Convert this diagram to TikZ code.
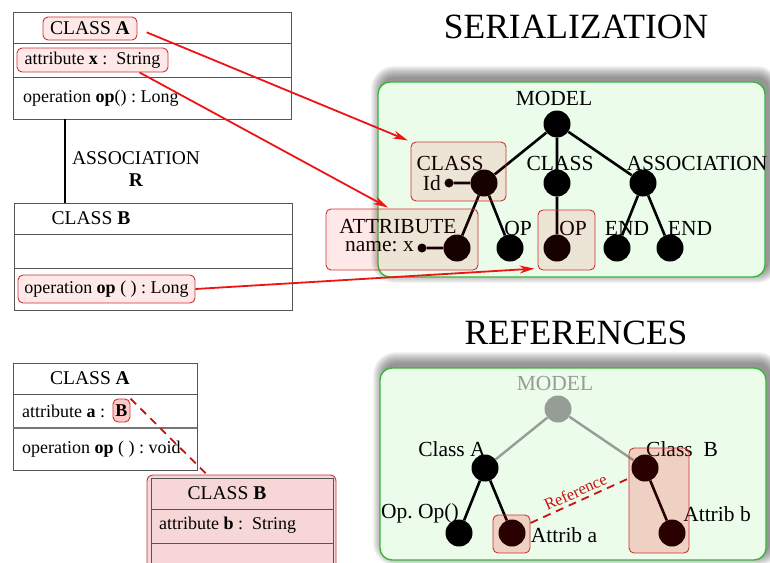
\documentclass[tikz,border=0pt]{standalone}
\usepackage{fontspec}
\setmainfont{Liberation Serif}
\usetikzlibrary{arrows.meta,calc}

\definecolor{panelfill}{RGB}{235,252,235}
\definecolor{paneledge}{RGB}{60,180,60}
\definecolor{hlred}{RGB}{205,50,50}
\definecolor{umlline}{RGB}{85,85,85}
\definecolor{ghost}{RGB}{150,156,150}
\definecolor{linkred}{RGB}{238,20,20}
\definecolor{pinkfill}{RGB}{246,214,214}

\newcommand\umlrow{\fontsize{18}{21}\selectfont}
\newcommand\umlhead{\fontsize{19.5}{23}\selectfont}
\newcommand\treelbl{\fontsize{21.5}{25}\selectfont}
\newcommand\bigtitle{\fontsize{35.5}{40}\selectfont}

% soft shadow behind a panel, cast up and to the right
\newcommand\panelshadow[4]{%
  \foreach \k in {0,...,11}{%
    \fill[black, fill opacity=0.045, rounded corners={(12+\k)*1pt}]
      (#1+4-\k, #2-5-\k) rectangle (#3+4+\k, #4-5+\k);}}

\tikzset{
  panel/.style={draw=paneledge, line width=1.4pt, fill=panelfill, rounded corners=12pt},
  umlbox/.style={draw=umlline, line width=0.9pt, inner sep=0pt},
  hl/.style={draw=hlred, line width=0.9pt, rounded corners=5pt, fill=red, fill opacity=0.09,
    text opacity=1, inner sep=0pt},
  hlstrong/.style={hl, fill opacity=0.17},
  dot/.style={circle, fill=black, inner sep=0pt, minimum size=27pt},
  smalldot/.style={circle, fill=black, inner sep=0pt, minimum size=9pt},
  treeedge/.style={line width=2.6pt},
  ghostedge/.style={line width=2.4pt, draw=ghost},
  lbl/.style={font=\treelbl, inner sep=0pt},
  row/.style={font=\umlrow, inner sep=0pt},
  head/.style={font=\umlhead, inner sep=0pt},
  link/.style={draw=linkred, line width=1.8pt, -{Stealth[length=15pt,width=8pt]}},
  reflink/.style={draw=linkred!85!black, line width=1.8pt, dash pattern=on 8pt off 6pt},
}

\begin{document}
\begin{tikzpicture}[x=1pt,y=-1pt]
\useasboundingbox (0,0) rectangle (770,562);

% ---------- titles ----------
\node[font=\bigtitle] (tser) at (576,27) {SERIALIZATION};
\node[font=\bigtitle] (tref) at (576,333) {REFERENCES};

% ---------- UML: class A, association R, class B ----------
\node[umlbox, minimum width=278pt, minimum height=107pt] (clA) at (152,65.5) {};
\draw[umlline, line width=0.9pt] (13,43) -- (291,43) (13,77) -- (291,77);
\node[hl, minimum width=94pt, minimum height=23pt, font=\umlhead] (hA) at (90,28.5) {CLASS \textbf{A}};
\node[hl, minimum width=151pt, minimum height=24pt, font=\umlrow] (hx) at (92.5,60) {attribute \textbf{x} :\ \ String};
\node[row, anchor=west] (opA) at (23,98) {operation \textbf{op}() :\ Long};

\node[umlbox, minimum width=278pt, minimum height=107pt] (clB) at (153,256.5) {};
\draw[umlline, line width=0.9pt] (14,234) -- (292,234) (14,268) -- (292,268);
\node[head] (nB) at (91,218) {CLASS \textbf{B}};
\node[hl, minimum width=177pt, minimum height=28pt, font=\umlrow] (hop) at (106.5,289) {operation \textbf{op} ( ) :\ Long};

\draw[line width=1.8pt] ([xshift=-87pt]clA.south) -- ([xshift=-88pt]clB.north);
\node[head] (assoc) at (136,158) {ASSOCIATION};
\node[head] (assocR) at (136,180) {\textbf{R}};

% ---------- serialization tree ----------
\panelshadow{378}{82}{765}{277}
\path[panel] (378,82) rectangle (765,277);

\node[dot] (m) at (557,124) {};
\node[dot] (c1) at (484,183) {};
\node[dot] (c2) at (557,183) {};
\node[dot] (as) at (643,183) {};
\node[smalldot] (id) at (449,183) {};
\node[dot] (at) at (457,248) {};
\node[dot] (op1) at (510,248) {};
\node[dot] (op2) at (557,248) {};
\node[dot] (e1) at (617,248) {};
\node[dot] (e2) at (670,248) {};
\node[smalldot] (nx) at (422,248) {};

\draw[treeedge] (m) -- (c1) (m) -- (c2) (m) -- (as)
  (c1) -- (id) (c1) -- (at) (c1) -- (op1) (c2) -- (op2)
  (as) -- (e1) (as) -- (e2) (at) -- (nx);

\node[lbl] (lm) at (554,98) {MODEL};
\node[lbl] (lc1) at (450,163) {CLASS};
\node[lbl, anchor=east] (lid) at (441,183) {Id};
\node[lbl] (lc2) at (560,163) {CLASS};
\node[lbl] (las) at (697,163) {ASSOCIATION};
\node[lbl] (lat) at (398,227) {ATTRIBUTE};
\node[lbl, anchor=east] (lnx) at (414,247) {name:\ x};
\node[lbl] (lop1) at (518,228) {OP};
\node[lbl] (lop2) at (573,228) {OP};
\node[lbl] (le1) at (627,228) {END};
\node[lbl] (le2) at (690,228) {END};

\node[hl, minimum width=95pt, minimum height=59pt] (sClass) at (458.5,171.5) {};
\node[hl, minimum width=152pt, minimum height=61pt] (sAttr) at (402,239.5) {};
\node[hl, minimum width=57pt, minimum height=60pt] (sOp) at (566.5,240) {};

% ---------- links from the UML model into the tree ----------
\draw[link, shorten <=10pt, shorten >=3pt] (hA.east) -- (sClass.north west);
\draw[link] ([xshift=47pt]hx.south) -- ([xshift=-14pt, yshift=1pt]sAttr.north);
\draw[link, shorten >=3pt] (hop.east) -- ([yshift=2pt]sOp.south west);

% ---------- UML: class A referencing class B ----------
\node[umlbox, minimum width=184pt, minimum height=107pt] (clA2) at (105,416.5) {};
\draw[umlline, line width=0.9pt] (13,394) -- (197,394);
\draw[umlline!80, line width=1.6pt] (13,428) -- (197,428);
\node[head] (nA2) at (90,378) {CLASS \textbf{A}};
\node[row, anchor=west] (attA2) at (22,411) {attribute \textbf{a} :};
\node[hl, fill opacity=0.22, minimum width=17pt, minimum height=23pt, font=\umlrow] (bref) at (121.5,410.5) {\textbf{B}};
\node[row, anchor=west] (opA2) at (22,449) {operation \textbf{op} ( ) :\ void};

\node[draw=hlred, line width=0.9pt, rounded corners=6pt, fill=pinkfill, inner sep=0pt,
  minimum width=189pt, minimum height=110pt] (pB) at (241.5,530) {};
\draw[umlline, line width=0.9pt] (151,590) -- (151,478) -- (333,478) -- (333,590)
  (151,509) -- (333,509) (151,543) -- (333,543);
\node[head] (nB2) at (227,493) {CLASS \textbf{B}};
\node[row, anchor=west] (attB2) at (159,525) {attribute \textbf{b} :\ \ String};

\draw[reflink] (bref.north east) -- ([xshift=-34.5pt]pB.north);

% ---------- references tree ----------
\panelshadow{380}{368}{766}{560}
\path[panel] (380,368) rectangle (766,560);

\node[dot, fill=ghost] (rm) at (558,409) {};
\node[dot] (ca) at (485,468) {};
\node[dot] (cb) at (645,468) {};
\node[dot] (oa) at (459,533) {};
\node[dot] (aa) at (512,533) {};
\node[dot] (ab) at (672,533) {};

\draw[ghostedge] (rm) -- (ca) (rm) -- (cb);
\draw[treeedge] (ca) -- (oa) (ca) -- (aa) (cb) -- (ab);

\node[lbl, text=ghost] (lrm) at (555,383) {MODEL};
\node[lbl] (lca) at (452,449) {Class A};
\node[lbl] (lcb) at (682,449) {Class~~B};
\node[lbl] (loa) at (420,513) {Op.\ Op()};
\node[lbl] (laa) at (564,535) {Attrib a};
\node[lbl] (lab) at (717,514) {Attrib b};

\node[hlstrong, minimum width=37pt, minimum height=38pt] (rA) at (511.5,534) {};
\node[hlstrong, minimum width=60pt, minimum height=105pt] (rB) at (659,500.5) {};

\draw[reflink] ([yshift=11pt]rA.east) -- node[midway, above=2pt, sloped, text=linkred!85!black, font=\fontsize{16.5}{19}\selectfont, inner sep=1pt] {Reference} ([yshift=22pt]rB.west);

\end{tikzpicture}
\end{document}
